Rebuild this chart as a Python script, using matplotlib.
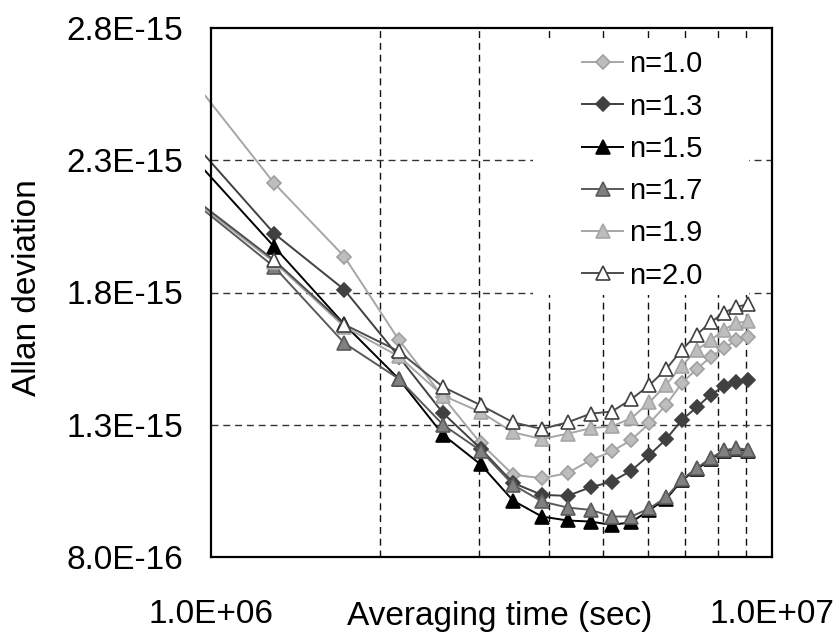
import numpy as np
import matplotlib
matplotlib.use("Agg")
import matplotlib.pyplot as plt
from matplotlib.patches import Rectangle
from matplotlib.transforms import Bbox, TransformedBbox

plt.rcParams["font.family"] = ["Liberation Sans", "DejaVu Sans"]

# averaging time (sec)
tau = [864000, 1296000, 1728000, 2160000, 2592000, 3024000, 3456000, 3888000,
       4320000, 4752000, 5184000, 5616000, 6048000, 6480000, 6912000, 7344000,
       7776000, 8208000, 8640000, 9072000]

# Allan deviation, units of 1e-15
adev_10 = [2.687, 2.213, 1.936, 1.622, 1.405, 1.230, 1.111, 1.098, 1.117, 1.167,
           1.199, 1.243, 1.306, 1.376, 1.458, 1.511, 1.556, 1.590, 1.619, 1.632]
adev_13 = [2.444, 2.023, 1.811, 1.558, 1.344, 1.210, 1.080, 1.035, 1.031, 1.064,
           1.085, 1.127, 1.186, 1.246, 1.319, 1.366, 1.414, 1.445, 1.462, 1.470]
adev_15 = [2.384, 1.973, 1.680, 1.474, 1.262, 1.150, 1.013, 0.953, 0.938, 0.934,
           0.921, 0.932, 0.978, 1.020, 1.090, 1.132, 1.170, 1.200, 1.208, 1.200]
adev_17 = [2.198, 1.897, 1.609, 1.474, 1.300, 1.202, 1.073, 1.010, 0.987, 0.978,
           0.953, 0.953, 0.984, 1.026, 1.094, 1.136, 1.174, 1.203, 1.212, 1.205]
adev_19 = [2.200, 1.915, 1.671, 1.559, 1.410, 1.348, 1.271, 1.246, 1.266, 1.287,
           1.294, 1.325, 1.385, 1.452, 1.523, 1.584, 1.619, 1.660, 1.685, 1.691]
adev_20 = [2.209, 1.922, 1.679, 1.578, 1.443, 1.374, 1.309, 1.284, 1.309, 1.342,
           1.350, 1.397, 1.450, 1.511, 1.584, 1.641, 1.688, 1.723, 1.746, 1.755]

labels = ["n=1.0", "n=1.3", "n=1.5", "n=1.7", "n=1.9", "n=2.0"]
series = [adev_10, adev_13, adev_15, adev_17, adev_19, adev_20]

y_ticks = [0.8, 1.3, 1.8, 2.3, 2.8]
y_ticklabels = ["8.0E-16", "1.3E-15", "1.8E-15", "2.3E-15", "2.8E-15"]
x_ticks = [1e6, 1e7]
x_ticklabels = ["1.0E+06", "1.0E+07"]
x_grid = [2e6, 3e6, 4e6, 5e6, 6e6, 7e6, 8e6, 9e6]

# line color, marker, face, edge, size
styles = [
    ("#a6a6a6", "D", "#bdbdbd", "#a0a0a0", 6.8),
    ("#404040", "D", "#404040", "#404040", 6.8),
    ("#000000", "^", "#000000", "#000000", 9.5),
    ("#5a5a5a", "^", "#808080", "#5a5a5a", 9.5),
    ("#a6a6a6", "^", "#bdbdbd", "#a6a6a6", 9.5),
    ("#4d4d4d", "^", "#ffffff", "#404040", 9.5),
]

fig = plt.figure(figsize=(8.39, 6.33), dpi=100)
ax = fig.add_axes([211 / 839, 76 / 633, 561 / 839, 529 / 633])

ax.set_xscale("log")
ax.set_xlim(1e6, 1e7)
ax.set_ylim(0.8, 2.8)

# gridlines drawn by hand so only the wanted ones show
for xg in x_grid:
    ax.axvline(xg, color="#111111", lw=1.0, dashes=(5, 3.5), zorder=0.5)
for yg in y_ticks[1:-1]:
    ax.axhline(yg, color="#333333", lw=1.0, dashes=(5, 3.5), zorder=0.5)

# white legend area hides the grid behind it
ax.add_patch(Rectangle((0.574, 0.495), 0.385, 0.482, transform=ax.transAxes,
                       facecolor="white", edgecolor="none", zorder=1))

clip = TransformedBbox(Bbox.from_extents(-6 / 561, 0, 1, 1), ax.transAxes)
for lab, vals, (lc, mk, fc, ec, ms) in zip(labels, series, styles):
    ln, = ax.plot(tau, vals, color=lc, lw=1.4, marker=mk, markersize=ms,
                  markerfacecolor=fc, markeredgecolor=ec, markeredgewidth=1.2,
                  label=lab, zorder=2)
    ln.set_clip_box(clip)

ax.set_yticks(y_ticks, y_ticklabels)
ax.set_xticks(x_ticks, x_ticklabels)
ax.xaxis.set_minor_locator(matplotlib.ticker.NullLocator())
ax.tick_params(axis="y", length=0, pad=20, labelsize=24)
ax.tick_params(axis="x", length=0, pad=30, labelsize=24)
for sp in ax.spines.values():
    sp.set_linewidth(1.6)
    sp.set_zorder(3)

leg = ax.legend(loc="upper left", bbox_to_anchor=((582 - 211) / 561, 0.958),
                frameon=False, fontsize=21, handlelength=1.41, handletextpad=0.2,
                labelspacing=0.49, borderpad=0, borderaxespad=0)

fig.text(500 / 839, 1 - 616 / 633, "Averaging time (sec)", fontsize=24,
         ha="center", va="center")
fig.text(28 / 839, 1 - 288 / 633, "Allan deviation", fontsize=24,
         ha="center", va="center", rotation=90)

fig.savefig("out.png", dpi=100)
